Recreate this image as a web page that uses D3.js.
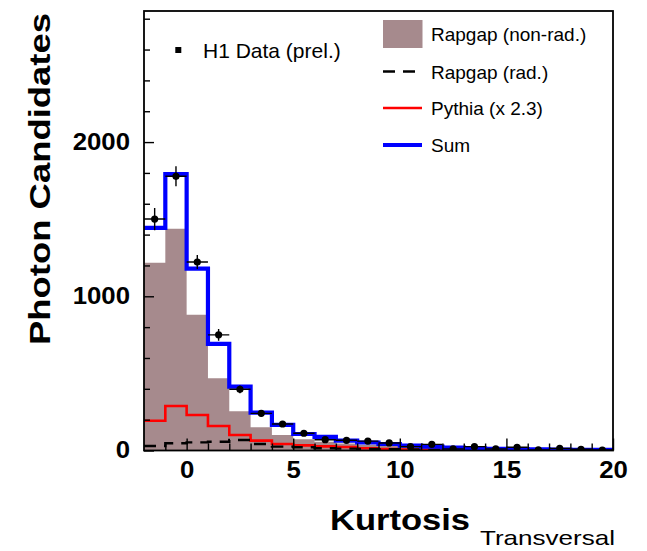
<!DOCTYPE html>
<html>
<head>
<meta charset="utf-8">
<script src="https://cdn.jsdelivr.net/npm/d3@7"></script>
<style>
  html, body { margin: 0; padding: 0; background: #fff; }
  svg { display: block; }
  text { font-family: "Liberation Sans", Arial, Helvetica, sans-serif; fill: #000; }
</style>
</head>
<body>
<svg id="chart" width="647" height="551"></svg>
<script>
// Lower edges of the unit-width kurtosis bins
const binLow = [-2, -1, 0, 1, 2, 3, 4, 5, 6, 7, 8, 9, 10, 11, 12, 13, 14, 15, 16, 17, 18, 19];

// H1 data (preliminary) with total uncertainties
const dataValues = [1501, 1778, 1222, 750, 397, 241, 172, 112, 70, 66, 61, 49, 25, 40, 10, 25, 10, 21, 4, 14, 8, 3];
const dataErrors = [72, 65, 45, 38, 25, 20, 17, 15, 13, 13, 12, 11, 9, 10, 8, 9, 8, 9, 7, 8, 7, 6];

// Monte Carlo predictions
const rapgapNonRad = [1218, 1438, 880, 469, 255, 150, 100, 73, 57, 45, 38, 32, 25, 19, 14, 11, 9, 7, 5, 4, 3, 3];
const rapgapRad    = [29, 47, 53, 57, 68, 42, 25, 21, 15, 12, 10, 8, 7, 5, 4, 3, 3, 2, 2, 2, 1, 1];
const pythiaScaled = [193, 289, 230, 159, 101, 64, 42, 33, 27, 23, 15, 10, 6, 4, 3, 2, 2, 1, 1, 1, 1, 1];
const sumValues    = [1443, 1793, 1180, 691, 414, 245, 166, 107, 88, 64, 52, 42, 31, 25, 18, 14, 11, 9, 7, 6, 5, 4];

// Axis ticks
const xMajorTicks = [0, 5, 10, 15, 20];
const xMinorTicks = [-1, 1, 2, 3, 4, 6, 7, 8, 9, 11, 12, 13, 14, 16, 17, 18, 19];
const yMajorTicks = [0, 1000, 2000];
const yMinorTicks = [200, 400, 600, 800, 1200, 1400, 1600, 1800, 2200, 2400, 2600, 2800];

// Legend entries
const legendLabels = ["Rapgap (non-rad.)", "Rapgap (rad.)", "Pythia (x 2.3)", "Sum"];
const dataLabel = "H1 Data (prel.)";

const binWidth = 1;
const frame = { left: 144, right: 613, top: 11, bottom: 450.5 };

const svg = d3.select("#chart");
const x = d3.scaleLinear().domain([-2, 20]).range([frame.left, frame.right]);
const y = d3.scaleLinear().domain([0, 2850]).range([frame.bottom, frame.top]);

svg.append("defs").append("clipPath").attr("id", "plotClip")
  .append("rect")
  .attr("x", frame.left).attr("y", frame.top)
  .attr("width", frame.right - frame.left).attr("height", frame.bottom - frame.top);

const plot = svg.append("g").attr("clip-path", "url(#plotClip)");

// Step points: each bin's value held across the bin, closed at the last upper edge
function stepPoints(values) {
  const pts = binLow.map((lo, i) => [lo, values[i]]);
  pts.push([binLow[binLow.length - 1] + binWidth, values[values.length - 1]]);
  return pts;
}

const stepLine = d3.line()
  .x(d => x(d[0])).y(d => y(d[1]))
  .curve(d3.curveStepAfter);

const stepArea = d3.area()
  .x(d => x(d[0])).y0(y(0)).y1(d => y(d[1]))
  .curve(d3.curveStepAfter);

const brown = "#a68a8d";

// Rapgap non-radiative: filled histogram
plot.append("path")
  .attr("d", stepArea(stepPoints(rapgapNonRad)))
  .attr("fill", brown);

// Pythia scaled
plot.append("path")
  .attr("d", stepLine(stepPoints(pythiaScaled)))
  .attr("fill", "none").attr("stroke", "#ff0000").attr("stroke-width", 2.6);

// Rapgap radiative: dashed
plot.append("path")
  .attr("d", stepLine(stepPoints(rapgapRad)))
  .attr("fill", "none").attr("stroke", "#000").attr("stroke-width", 2.4)
  .attr("stroke-dasharray", "12,8");

// Sum of predictions
plot.append("path")
  .attr("d", stepLine(stepPoints(sumValues)))
  .attr("fill", "none").attr("stroke", "#0000ff").attr("stroke-width", 4.2);

// Data points with error bars
const pts = plot.append("g");
binLow.forEach((lo, i) => {
  const cx = x(lo + binWidth / 2);
  const v = dataValues[i], e = dataErrors[i];
  pts.append("line")
    .attr("x1", x(lo)).attr("x2", x(lo + binWidth))
    .attr("y1", y(v)).attr("y2", y(v))
    .attr("stroke", "#000").attr("stroke-width", 1.4);
  pts.append("line")
    .attr("x1", cx).attr("x2", cx)
    .attr("y1", y(Math.max(0, v - e))).attr("y2", y(v + e))
    .attr("stroke", "#000").attr("stroke-width", 1.4);
  pts.append("circle")
    .attr("cx", cx).attr("cy", y(v)).attr("r", 3.6)
    .attr("fill", "#000");
});

// Axes with inward ticks
const tickFont = "bold 23px 'Liberation Sans', Arial, sans-serif";

const yAxisMajor = svg.append("g")
  .attr("transform", `translate(${frame.left},0)`)
  .call(d3.axisLeft(y).tickValues(yMajorTicks).tickSize(-10).tickPadding(14).tickFormat(d3.format("d")));
svg.append("g")
  .attr("transform", `translate(${frame.left},0)`)
  .call(d3.axisLeft(y).tickValues(yMinorTicks).tickSize(-6).tickFormat(""));

const xAxisMajor = svg.append("g")
  .attr("transform", `translate(0,${frame.bottom})`)
  .call(d3.axisBottom(x).tickValues(xMajorTicks).tickSize(-12).tickPadding(11).tickFormat(d3.format("d")));
svg.append("g")
  .attr("transform", `translate(0,${frame.bottom})`)
  .call(d3.axisBottom(x).tickValues(xMinorTicks).tickSize(-7).tickFormat(""));

svg.selectAll(".domain").remove();
svg.selectAll(".tick line").attr("stroke", "#000").attr("stroke-width", 1.4);
[yAxisMajor, xAxisMajor].forEach(g => {
  g.selectAll("text")
    .style("font", tickFont)
    .attr("fill", "#000");
});

// Frame
svg.append("rect")
  .attr("x", frame.left).attr("y", frame.top)
  .attr("width", frame.right - frame.left).attr("height", frame.bottom - frame.top)
  .attr("fill", "none").attr("stroke", "#000").attr("stroke-width", 1.8);

// Widen glyphs of the heavy axis fonts
function widen(sel, factor) {
  sel.each(function () {
    const len = this.getComputedTextLength();
    d3.select(this).attr("textLength", len * factor).attr("lengthAdjust", "spacingAndGlyphs");
  });
}
widen(yAxisMajor.selectAll("text"), 1.12);
widen(xAxisMajor.selectAll("text"), 1.12);

// Axis titles
svg.append("text")
  .attr("x", 330).attr("y", 530)
  .style("font-weight", "bold").style("font-size", "29px")
  .attr("textLength", 140).attr("lengthAdjust", "spacingAndGlyphs")
  .text("Kurtosis");
svg.append("text")
  .attr("x", 480).attr("y", 545)
  .style("font-size", "21px")
  .attr("textLength", 135).attr("lengthAdjust", "spacingAndGlyphs")
  .text("Transversal");
svg.append("text")
  .attr("transform", "translate(50,345) rotate(-90)")
  .style("font-weight", "bold").style("font-size", "30px")
  .attr("textLength", 332).attr("lengthAdjust", "spacingAndGlyphs")
  .text("Photon Candidates");

// Data legend
svg.append("rect")
  .attr("x", 175.3).attr("y", 47).attr("width", 6).attr("height", 6)
  .attr("fill", "#000");
svg.append("text")
  .attr("x", 203).attr("y", 57.5)
  .style("font-size", "21px")
  .text(dataLabel);

// Prediction legend
const legendRows = [34, 71.5, 108, 145];
const lg = svg.append("g");
lg.append("rect")
  .attr("x", 383).attr("y", 20).attr("width", 39.5).attr("height", 28)
  .attr("fill", brown);
lg.append("line")
  .attr("x1", 383).attr("x2", 422).attr("y1", legendRows[1]).attr("y2", legendRows[1])
  .attr("stroke", "#000").attr("stroke-width", 2.4).attr("stroke-dasharray", "12,8");
lg.append("line")
  .attr("x1", 383).attr("x2", 422).attr("y1", legendRows[2]).attr("y2", legendRows[2])
  .attr("stroke", "#ff0000").attr("stroke-width", 2.6);
lg.append("line")
  .attr("x1", 383).attr("x2", 422).attr("y1", legendRows[3]).attr("y2", legendRows[3])
  .attr("stroke", "#0000ff").attr("stroke-width", 4.2);
legendLabels.forEach((t, i) => {
  lg.append("text")
    .attr("x", 431).attr("y", legendRows[i] + 7)
    .style("font-size", "19px")
    .text(t);
});
</script>
</body>
</html>
